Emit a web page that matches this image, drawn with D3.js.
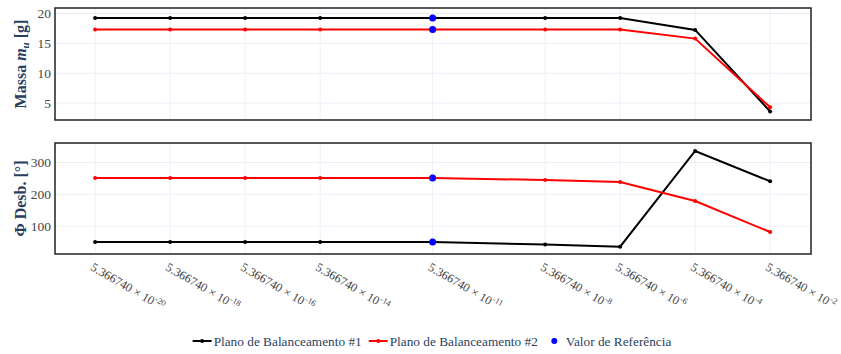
<!DOCTYPE html>
<html>
<head>
<meta charset="utf-8">
<script src="https://cdn.jsdelivr.net/npm/d3@7"></script>
<style>
  html, body { margin: 0; padding: 0; background: #fff; }
  svg { display: block; font-family: "Liberation Serif", "Times New Roman", serif; }
</style>
</head>
<body>
<svg id="chart" width="841" height="354"></svg>
<script>
// Step sizes: 5.366740 × 10^exp
const mantissa = 5.36674;
const exponents = [-20, -18, -16, -14, -11, -8, -6, -4, -2];

// Unbalance mass per balancing plane [g]
const massaPlano1 = [19.25, 19.25, 19.25, 19.25, 19.25, 19.25, 19.25, 17.25, 3.6];
const massaPlano2 = [17.3, 17.3, 17.3, 17.3, 17.3, 17.3, 17.3, 15.8, 4.3];

// Unbalance phase per balancing plane [°]
const fasePlano1 = [51, 51, 51, 51, 50.5, 43, 36, 336, 241];
const fasePlano2 = [251, 251, 251, 251, 251, 245, 239, 179, 82];

// Reference value (exponent -11)
const refExponent = -11;
const refMassa = [19.25, 17.3];
const refFase = [50.5, 251];

const massaTicks = [5, 10, 15, 20];
const faseTicks = [100, 200, 300];

const seriesNames = ["Plano de Balanceamento #1", "Plano de Balanceamento #2", "Valor de Referência"];
const colors = ["#000000", "#ff0000", "#0000ff"];

const svg = d3.select("#chart");
const left = 55, right = 811;
const panels = [
  { top: 8, bottom: 120, domain: [2.17, 20.92], ticks: massaTicks, s1: massaPlano1, s2: massaPlano2, ref: refMassa },
  { top: 143, bottom: 254, domain: [13, 361], ticks: faseTicks, s1: fasePlano1, s2: fasePlano2, ref: refFase }
];

const xVals = exponents.map(e => mantissa * Math.pow(10, e));
const x = d3.scaleLog()
  .domain([mantissa * Math.pow(10, -21.07), mantissa * Math.pow(10, -0.91)])
  .range([left, right]);

const gridColor = "#ebf0f8";
const textColor = "#2a3f5f";
const serif = "Liberation Serif, Times New Roman, serif";

panels.forEach((p, pi) => {
  const y = d3.scaleLinear().domain(p.domain).range([p.bottom, p.top]);
  const g = svg.append("g");

  // grid lines
  g.selectAll(".vgrid").data(xVals).join("line")
    .attr("x1", d => x(d)).attr("x2", d => x(d))
    .attr("y1", p.top).attr("y2", p.bottom)
    .attr("stroke", gridColor).attr("stroke-width", 1);
  g.selectAll(".hgrid").data(p.ticks).join("line")
    .attr("x1", left).attr("x2", right)
    .attr("y1", d => y(d)).attr("y2", d => y(d))
    .attr("stroke", gridColor).attr("stroke-width", 1);

  // y axis labels
  const yAxis = d3.axisLeft(y).tickValues(p.ticks).tickSize(0).tickPadding(4);
  const ya = g.append("g").attr("transform", `translate(${left},0)`).call(yAxis)
    .attr("font-family", serif);
  ya.select(".domain").remove();
  ya.selectAll("text")
    .attr("font-size", 13.5).attr("fill", "#444");

  const line = d3.line().x((d, i) => x(xVals[i])).y(d => y(d));
  [p.s1, p.s2].forEach((s, si) => {
    g.append("path").datum(s)
      .attr("d", line)
      .attr("fill", "none")
      .attr("stroke", colors[si])
      .attr("stroke-width", 2);
    g.selectAll(".m" + si).data(s).join("circle")
      .attr("cx", (d, i) => x(xVals[i])).attr("cy", d => y(d))
      .attr("r", 2).attr("fill", colors[si]);
  });

  // reference markers
  g.selectAll(".ref").data(p.ref).join("circle")
    .attr("cx", x(mantissa * Math.pow(10, refExponent)))
    .attr("cy", d => y(d))
    .attr("r", 3.5).attr("fill", colors[2]);

  // frame
  g.append("rect")
    .attr("x", left).attr("y", p.top)
    .attr("width", right - left).attr("height", p.bottom - p.top)
    .attr("fill", "none").attr("stroke", "#222").attr("stroke-width", 1.5);
});

// axis titles
const t1 = svg.append("text")
  .attr("transform", `translate(26,${(panels[0].top + panels[0].bottom) / 2}) rotate(-90)`)
  .attr("text-anchor", "middle")
  .attr("font-size", 16).attr("font-weight", "bold").attr("fill", textColor);
t1.append("tspan").text("Massa ");
t1.append("tspan").attr("font-style", "italic").text("m");
t1.append("tspan").attr("font-style", "italic").attr("font-size", 11).attr("dy", 3).text("u");
t1.append("tspan").attr("dy", -3).text(" [g]");

svg.append("text")
  .attr("transform", `translate(26,${(panels[1].top + panels[1].bottom) / 2}) rotate(-90)`)
  .attr("text-anchor", "middle")
  .attr("font-size", 16).attr("font-weight", "bold").attr("fill", textColor)
  .text("Φ Desb. [°]");

// rotated x tick labels
const xl = svg.append("g");
xVals.forEach((v, i) => {
  const t = xl.append("text")
    .attr("transform", `translate(${x(v) - 1},${panels[1].bottom + 8}) rotate(30)`)
    .attr("text-anchor", "start")
    .attr("dy", "0.71em")
    .attr("font-size", 12.3).attr("fill", "#444");
  t.append("tspan").text(d3.format(".6f")(mantissa) + " × 10");
  t.append("tspan").attr("font-size", 8.5).attr("dy", -5).text(String(exponents[i]));
});

// legend, laid out from measured label widths and centred
const legend = svg.append("g").attr("transform", "translate(0,341)");
const types = ["line", "line", "dot"];
let cursor = 0;
const groups = seriesNames.map((name, i) => {
  const gi = legend.append("g");
  if (types[i] === "line") {
    gi.append("line").attr("x1", 0).attr("x2", 19).attr("y1", 0).attr("y2", 0)
      .attr("stroke", colors[i]).attr("stroke-width", 2);
    gi.append("circle").attr("cx", 9.5).attr("cy", 0).attr("r", 2).attr("fill", colors[i]);
  } else {
    gi.append("circle").attr("cx", 9.5).attr("cy", 0).attr("r", 3).attr("fill", colors[i]);
  }
  const txt = gi.append("text").attr("x", 21).attr("dy", "0.35em")
    .attr("font-size", 13.3).attr("fill", textColor).text(name);
  const w = 21 + txt.node().getComputedTextLength();
  const pos = cursor;
  cursor += w + 7;
  return { gi, pos };
});
const total = cursor - 7;
const start = 432 - total / 2;
groups.forEach(({ gi, pos }) => gi.attr("transform", `translate(${start + pos},0)`));
</script>
</body>
</html>
